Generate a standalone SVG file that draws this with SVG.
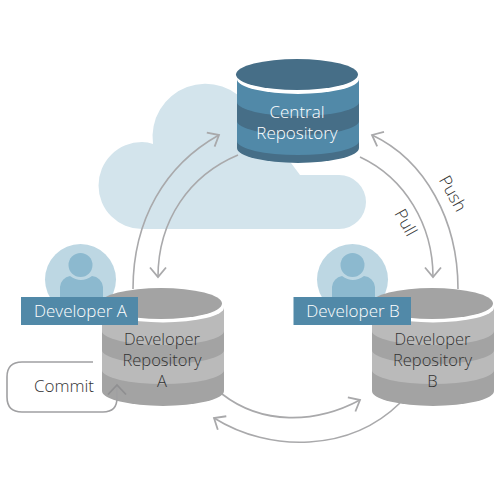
<svg xmlns="http://www.w3.org/2000/svg" width="500" height="500" viewBox="0 0 500 500">
<style>
text{font-family:"Open Sans","Noto Sans","Liberation Sans",sans-serif;font-size:17px;font-weight:300;text-anchor:middle}
text.r{font-size:16.5px}
.w{fill:#fff}.k{fill:#333}
.conn{fill:none;stroke:#a9a9ab;stroke-width:1.6;marker-end:url(#head)}
.commit{fill:none;stroke:#a0a0a2;stroke-width:1.6;marker-end:url(#head2)}
.cd{fill:#466e87}.cl{fill:#5189a8}.gd{fill:#a3a3a3}.gl{fill:#bababa}
.av{fill:#bdd7e3}.fg{fill:#8cb9cf}.tag{fill:#5189a8}
</style>
<defs>
<marker id="head" markerUnits="userSpaceOnUse" markerWidth="24" markerHeight="24" refX="12" refY="12" orient="auto" viewBox="0 0 24 24"><path d="M2.5 4 L12 12 L2.500 20" fill="none" stroke="#a9a9ab" stroke-width="1.8"/></marker>
<marker id="head2" markerUnits="userSpaceOnUse" markerWidth="24" markerHeight="24" refX="12" refY="12" orient="auto" viewBox="0 0 24 24"><path d="M2.500 3 L12 12 L2.500 21" fill="none" stroke="#8f8f91" stroke-width="1.8"/></marker>
</defs>
<path id="cloud" d="M142 229A43.500 43.500 0 0 1 142 142Q148 142 153 144A53 53 0 0 1 250 108L300 175H339A27 27 0 0 1 339 229Z" fill="#d3e4ec"/>
<g id="connectors">
<path class="conn" d="M133 289C133 220 165 165 219 135"/>
<path class="conn" d="M238 155C190 175 158 220 158 277"/>
<path class="conn" d="M360 157C405 178 433 225 433 277"/>
<path class="conn" d="M458 289C458 220 425 160 372 135"/>
<path class="conn" d="M222 394C262 425 315 424 360 400"/>
<path class="conn" d="M400 403C350 452 270 453 214 418"/>
</g>
<g id="central">
<path class="cd" d="M237 78V148A61 15 0 0 0 359 148V78Z"/>
<path class="cl" d="M237 78V102A61 14 0 0 0 359 102V78Z"/>
<path class="cl" d="M237 121A61 14 0 0 0 359 121V141A61 14 0 0 1 237 141Z"/>
<ellipse cx="298" cy="79" rx="61" ry="15" fill="#fff"/>
<ellipse cx="297" cy="74.500" rx="61" ry="15.500" class="cd"/>
<text class="w" x="297" y="118">Central</text>
<text class="w" x="297" y="139">Repository</text>
</g>
<g id="dev-a-avatar">
<circle cx="80.500" cy="279.500" r="35.500" class="av"/>
<circle cx="80.500" cy="265" r="12" class="fg"/>
<path class="fg" d="M60 300V287A12 12 0 0 1 70 276Q81 284 92 276A12 12 0 0 1 103 287V300Z"/>
</g>
<g id="dev-a">
<path class="gd" d="M102 307V391A61 15 0 0 0 224 391V307Z"/>
<path class="gl" d="M102 307V331A61 14 0 0 0 224 331V307Z"/>
<path class="gl" d="M102 350A61 14 0 0 0 224 350V370A61 14 0 0 1 102 370Z"/>
<ellipse cx="163" cy="307.500" rx="61" ry="15" fill="#fff"/>
<ellipse cx="161" cy="303.500" rx="61" ry="15.500" class="gd"/>
<text class="k r" x="162" y="345">Developer</text>
<text class="k r" x="162" y="366">Repository</text>
<text class="k r" x="162" y="387">A</text>
</g>
<g id="dev-a-tag"><rect class="tag" x="21" y="297" width="117" height="28"/><text class="w" x="80.500" y="317">Developer A</text></g>
<g id="dev-b-avatar">
<circle cx="352.500" cy="279.500" r="35.500" class="av"/>
<circle cx="352.500" cy="265" r="12" class="fg"/>
<path class="fg" d="M332 300V287A12 12 0 0 1 342 276Q353 284 364 276A12 12 0 0 1 375 287V300Z"/>
</g>
<g id="dev-b">
<path class="gd" d="M372 307V391A61 15 0 0 0 494 391V307Z"/>
<path class="gl" d="M372 307V331A61 14 0 0 0 494 331V307Z"/>
<path class="gl" d="M372 350A61 14 0 0 0 494 350V370A61 14 0 0 1 372 370Z"/>
<ellipse cx="433" cy="307.500" rx="61" ry="15" fill="#fff"/>
<ellipse cx="432" cy="303.500" rx="61" ry="15.500" class="gd"/>
<text class="k r" x="432.500" y="345">Developer</text>
<text class="k r" x="432.500" y="366">Repository</text>
<text class="k r" x="432.500" y="387">B</text>
</g>
<g id="dev-b-tag"><rect class="tag" x="293.500" y="297" width="117.500" height="28"/><text class="w" x="353" y="317">Developer B</text></g>
<g id="commit">
<path class="commit" d="M93 362H22Q7 362 7 377V397Q7 412 22 412H103Q117 412 117 398V385"/>
<text class="k" x="64" y="392">Commit</text>
</g>
<text class="k" transform="translate(405 223) rotate(61)" y="5">Pull</text>
<text class="k" transform="translate(452 194) rotate(61)" y="5">Push</text>
</svg>
